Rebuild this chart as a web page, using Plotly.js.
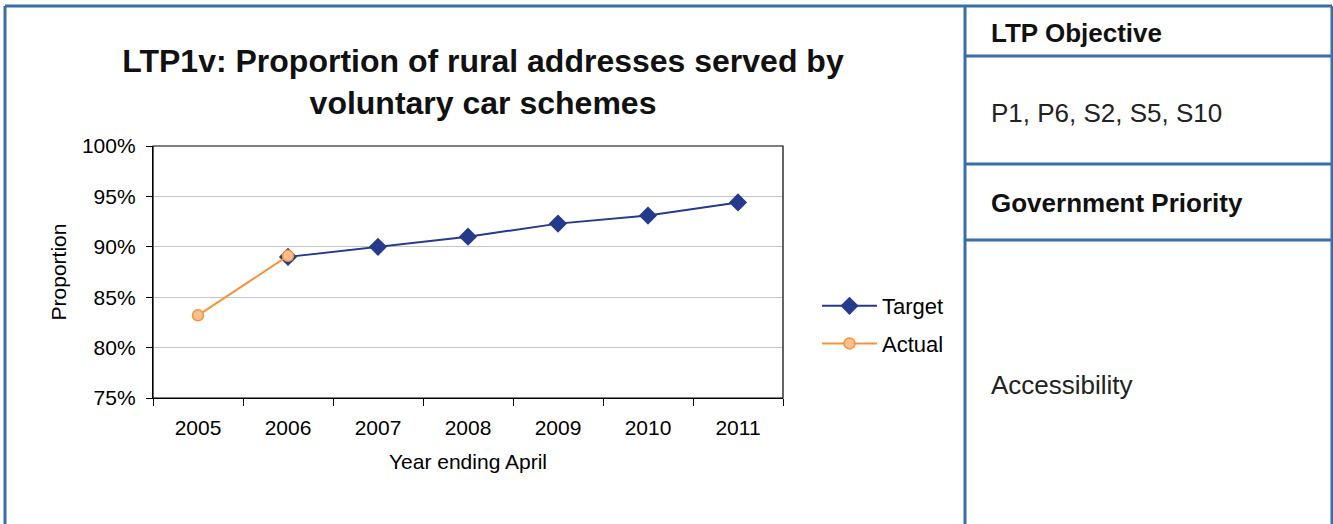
<!DOCTYPE html>
<html>
<head>
<meta charset="utf-8">
<script src="https://cdn.plot.ly/plotly-3.0.1.min.js"></script>
<style>
html,body{margin:0;padding:0;background:#fff;}
#chart{width:1333px;height:524px;}
</style>
</head>
<body>
<div id="chart"></div>
<script>
const years = ['2005','2006','2007','2008','2009','2010','2011'];
const targetValues = [null, 0.89, 0.90, 0.91, 0.923, 0.931, 0.944];
const actualValues = [0.832, 0.891, null, null, null, null, null];
const yTickVals = [0.75, 0.80, 0.85, 0.90, 0.95, 1.00];
const yTickText = ['75%', '80%', '85%', '90%', '95%', '100%'];
const tableHeaders = ['LTP Objective', 'Government Priority'];
const tableValues = ['P1, P6, S2, S5, S10', 'Accessibility'];

const W = 1333, H = 524;
const L = 153, R = 783, T = 146, B = 398;
const px = x => (x - L) / (R - L);
const py = y => (B - y) / (B - T);
const border = '#3a6ea8';
const FAM = '"Liberation Sans", Arial, Helvetica, sans-serif';

const traces = [
  {
    x: years, y: targetValues, name: 'Target', type: 'scatter', mode: 'lines+markers',
    line: {color: '#253a8c', width: 2},
    marker: {symbol: 'diamond', size: 14, color: '#253a8c'},
    connectgaps: false, legendgroup: 'a'
  },
  {
    x: years, y: actualValues, name: 'Actual', type: 'scatter', mode: 'lines+markers',
    line: {color: '#f7923a', width: 2},
    marker: {symbol: 'circle', size: 11, color: '#fbc08f', line: {color: '#f7923a', width: 1.5}},
    connectgaps: false, legendgroup: 'b'
  }
];

const shapes = [];
function line(x0, y0, x1, y1) {
  shapes.push({type: 'line', xref: 'paper', yref: 'paper', x0: px(x0), y0: py(y0), x1: px(x1), y1: py(y1),
    line: {color: border, width: 3}});
}
line(5, 6, 1332, 6);
line(5, 6, 5, 530);
line(965, 6, 965, 530);
line(1332, 6, 1332, 530);
line(965, 56, 1332, 56);
line(965, 164, 1332, 164);
line(965, 240, 1332, 240);
shapes.push({type: 'rect', xref: 'paper', yref: 'paper', x0: 0, y0: 0, x1: 1, y1: 1,
  line: {color: '#000', width: 1.2}});

const annotations = [
  {text: '<b>' + tableHeaders[0] + '</b>', x: px(989), y: py(33), color: '#111'},
  {text: tableValues[0], x: px(989), y: py(113), color: '#222'},
  {text: '<b>' + tableHeaders[1] + '</b>', x: px(989), y: py(203), color: '#111'},
  {text: tableValues[1], x: px(989), y: py(385), color: '#222'}
].map(a => ({xref: 'paper', yref: 'paper', showarrow: false, xanchor: 'left', yanchor: 'middle',
  text: a.text, x: a.x, y: a.y, font: {size: 26, color: a.color, family: FAM}}));

const layout = {
  width: W, height: H,
  margin: {l: L, r: W - R, t: T, b: H - B, pad: 0},
  paper_bgcolor: '#fff', plot_bgcolor: '#fff',
  font: {family: FAM, color: '#000', size: 21},
  title: {
    text: '<b>LTP1v: Proportion of rural addresses served by<br>voluntary car schemes</b>',
    x: 483 / W, xanchor: 'center', y: 1 - 72 / H, yanchor: 'middle',
    font: {size: 32, color: '#111', family: FAM}
  },
  xaxis: {
    type: 'category', range: [-0.5, 6.5],
    showline: true, linecolor: '#000', linewidth: 1.2,
    ticks: 'outside', ticklen: 7, tickcolor: '#000', tickson: 'boundaries',
    showgrid: false, tickfont: {size: 21, family: FAM},
    ticklabelstandoff: 11,
    title: {text: 'Year ending April', font: {size: 21, family: FAM}, standoff: 15}
  },
  yaxis: {
    range: [0.75, 1.0], tickvals: yTickVals, ticktext: yTickText,
    showline: true, linecolor: '#000', linewidth: 1.2,
    ticks: 'outside', ticklen: 6, tickcolor: '#000',
    showgrid: true, gridcolor: '#c0c6c6', gridwidth: 1.2,
    zeroline: false, tickfont: {size: 21, family: FAM},
    ticklabelstandoff: 6,
    title: {text: 'Proportion', font: {size: 21, family: FAM}, standoff: 9}
  },
  showlegend: true,
  legend: {
    x: px(817), y: py(285), xanchor: 'left', yanchor: 'top',
    font: {size: 22, family: FAM}, bgcolor: 'rgba(0,0,0,0)', tracegroupgap: 6,
    itemwidth: 55
  },
  shapes: shapes,
  annotations: annotations
};

Plotly.newPlot('chart', traces, layout, {displayModeBar: false, staticPlot: true});
</script>
</body>
</html>
